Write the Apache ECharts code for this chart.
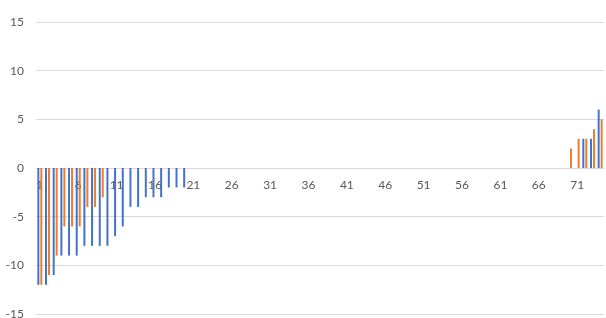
<!DOCTYPE html>
<html>
<head>
<meta charset="utf-8">
<style>
html,body{margin:0;padding:0;background:#fff;}
#chart{width:606px;height:318px;}
</style>
<script src="https://cdn.jsdelivr.net/npm/echarts@6/dist/echarts.min.js"></script>
</head>
<body>
<div id="chart"></div>
<script>
// categories 1..74
var categories = [];
for (var i = 1; i <= 74; i++) categories.push(String(i));

// blank cells are null
var blueValues = [
	-12, -12, -11, -9, -9, -9, -8, -8, -8, -8,
	-7, -6, -4, -4, -3, -3, -3, -2, -2, -2,
	null, null, null, null, null, null, null, null, null, null,
	null, null, null, null, null, null, null, null, null, null,
	null, null, null, null, null, null, null, null, null, null,
	null, null, null, null, null, null, null, null, null, null,
	null, null, null, null, null, null, null, null, null, null,
	null, 3, 3, 6
];
var orangeValues = [
	-12, -11, -9, -6, -6, -6, -4, -4, -3, null,
	null, null, null, null, null, null, null, null, null, null,
	null, null, null, null, null, null, null, null, null, null,
	null, null, null, null, null, null, null, null, null, null,
	null, null, null, null, null, null, null, null, null, null,
	null, null, null, null, null, null, null, null, null, null,
	null, null, null, null, null, null, null, null, null, 2,
	3, 3, 4, 5
];

var chart = echarts.init(document.getElementById('chart'));
chart.setOption({
	animation: false,
	grid: {left: 36, right: 2, top: 22, bottom: 4, outerBoundsMode: 'none', containLabel: false},
	textStyle: {fontFamily: 'Lato'},
	xAxis: {
		type: 'category',
		data: categories,
		// the zero line sits half way down the plot
		offset: -146,
		axisLine: {onZero: false, lineStyle: {color: '#d9d9d9', width: 1}},
		axisTick: {show: false},
		axisLabel: {interval: 4, color: '#595959', fontSize: 12, margin: 11}
	},
	yAxis: {
		type: 'value',
		min: -15,
		max: 15,
		interval: 5,
		axisLine: {show: false},
		axisTick: {show: false},
		axisLabel: {color: '#595959', fontSize: 12, margin: 12},
		splitLine: {lineStyle: {color: '#d9d9d9', width: 1}}
	},
	series: [
		{type: 'bar', data: blueValues, barWidth: 2, barGap: '50%', itemStyle: {color: '#4472C4'}},
		{type: 'bar', data: orangeValues, barWidth: 2, barGap: '50%', itemStyle: {color: '#ED7D31'}}
	]
});
</script>
</body>
</html>
